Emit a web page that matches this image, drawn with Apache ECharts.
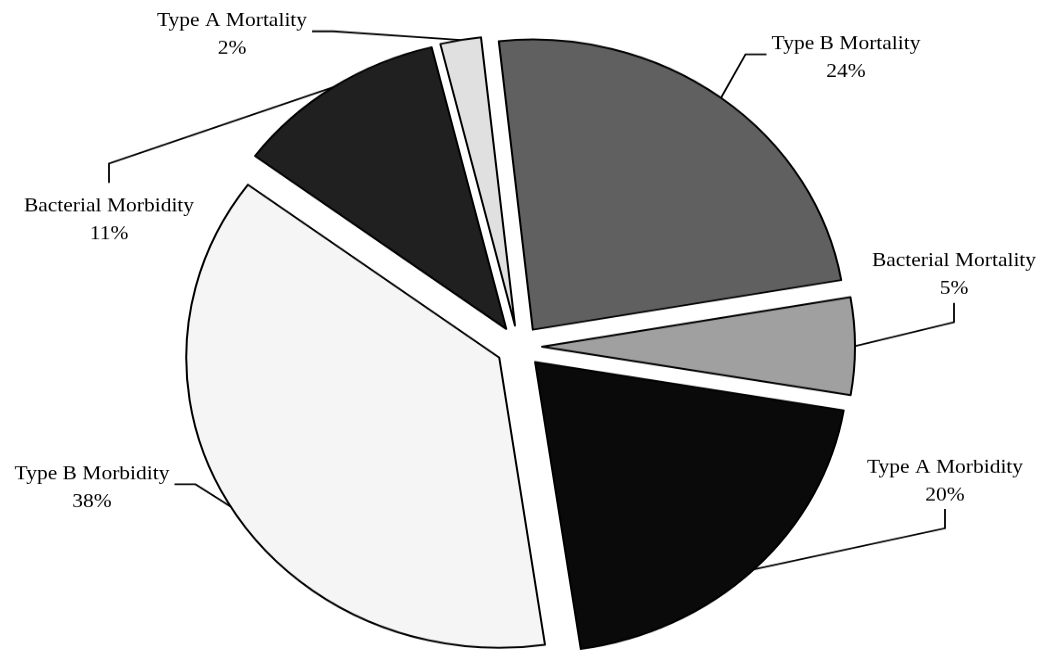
<!DOCTYPE html>
<html>
<head>
<meta charset="utf-8">
<title>Mortality and Morbidity</title>
<script src="https://cdn.jsdelivr.net/npm/echarts@6/dist/echarts.min.js"></script>
<style>
  html, body { margin: 0; padding: 0; background: #fff; overflow: hidden; }
  #box { width: 1041px; height: 652px; overflow: hidden; }
  /* the pie in the picture is a bit flat (ellipse), so squeeze the chart vertically */
  #main { width: 1041px; height: 704px; transform: scaleY(0.927); transform-origin: 0 0; }
</style>
</head>
<body>
<div id="box"><div id="main"></div></div>
<script>
var names = ['Type A Mortality', 'Type B Mortality', 'Bacterial Mortality', 'Type A Morbidity', 'Type B Morbidity', 'Bacterial Morbidity']
var values = [2.1, 24.0, 5.4, 20.0, 37.5, 11.0]
var colors = ['#e0e0e0', '#606060', '#a0a0a0', '#0a0a0a', '#f5f5f5', '#202020']

var sy = 0.927
var explode = 23
// label centres as seen in the picture
var labelPos = [[232, 35], [846, 58], [954, 275], [945, 481], [92, 488], [109, 220]]
// which side of the label the leader line leaves from
var leaderSide = ['right', 'left', 'bottom', 'bottom', 'right', 'top']

var chart = echarts.init(document.getElementById('main'))

var sliceData = []
var labelData = []
for (var i = 0; i < names.length; i++) {
	sliceData.push({
		name: names[i],
		value: values[i],
		selected: true,
		itemStyle: { color: colors[i] }
	})
	labelData.push({ name: names[i], value: values[i] })
}

function leaderLine(i, x, y, w, h) {
	// label series (index 1) has the same geometry as the slices, just not pulled out
	var lay = chart.getModel().getSeriesByIndex(1).getData().getItemLayout(i)
	var mid = (lay.startAngle + lay.endAngle) / 2
	var r = lay.r + explode
	var start = [lay.cx + r * Math.cos(mid), lay.cy + r * Math.sin(mid)]
	var len = 21
	var end, knee
	var side = leaderSide[i]
	if (side == 'left') {
		end = [x - w / 2 - 5, y - 4]
		knee = [end[0] - len, end[1]]
	} else if (side == 'right') {
		end = [x + w / 2 + 5, y - 4]
		knee = [end[0] + len, end[1]]
	} else if (side == 'top') {
		end = [x, y - h / 2 - 10]
		knee = [x, end[1] - len]
	} else {
		end = [x, y + h / 2]
		knee = [x, end[1] + len]
	}
	return [start, knee, end]
}

var pieBase = {
	type: 'pie',
	center: [519, 374],
	radius: 313,
	startAngle: 103.8,
	clockwise: true,
	percentPrecision: 0,
	avoidLabelOverlap: false,
	emphasis: { disabled: true }
}

var option = {
	backgroundColor: '#fff',
	animation: false,
	series: [
		echarts.util.extend({
			selectedMode: 'multiple',
			selectedOffset: explode,
			itemStyle: { borderColor: '#000', borderWidth: 2 },
			label: { show: false },
			labelLine: { show: false },
			data: sliceData
		}, pieBase),
		echarts.util.extend({
			silent: true,
			z: 3,
			itemStyle: { color: 'rgba(0,0,0,0)', borderWidth: 0 },
			label: {
				show: true,
				position: 'outside',
				formatter: '{b}\n{d}%',
				fontFamily: 'Liberation Serif',
				fontSize: 21.5,
				lineHeight: 30,
				color: '#000',
				align: 'center'
			},
			labelLine: { show: true, lineStyle: { color: '#000', width: 1.8 } },
			labelLayout: function (params) {
				var i = params.dataIndex
				var x = labelPos[i][0]
				var y = labelPos[i][1] / sy
				var w = params.labelRect.width
				var h = params.labelRect.height
				return {
					x: x,
					y: y,
					align: 'center',
					verticalAlign: 'middle',
					labelLinePoints: leaderLine(i, x, y, w, h)
				}
			},
			data: labelData
		}, pieBase)
	]
}
chart.setOption(option)
</script>
</body>
</html>
